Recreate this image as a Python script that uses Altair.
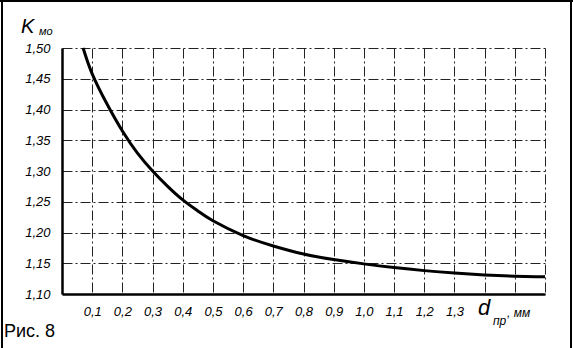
import altair as alt
import pandas as pd

# Curve: d_пр (mm) vs K_мо
d_vals = [0.07, 0.10, 0.15, 0.20, 0.25, 0.30, 0.35, 0.40, 0.45, 0.50, 0.60,
          0.70, 0.80, 0.90, 1.00, 1.10, 1.20, 1.30, 1.40, 1.50, 1.60]
k_vals = [1.500, 1.458, 1.408, 1.365, 1.329, 1.300, 1.275, 1.253, 1.235, 1.219, 1.195,
          1.178, 1.165, 1.156, 1.149, 1.143, 1.138, 1.134, 1.131, 1.129, 1.128]

x_ticks = [0.0, 0.1, 0.2, 0.3, 0.4, 0.5, 0.6, 0.7, 0.8, 0.9, 1.0, 1.1, 1.2, 1.3, 1.4, 1.5, 1.6]
y_ticks = [1.10, 1.15, 1.20, 1.25, 1.30, 1.35, 1.40, 1.45, 1.50]

df = pd.DataFrame({"d": d_vals, "k": k_vals})

W, H = 483, 246
FONT = "Liberation Sans"
GRID_DASH = [10, 3, 2, 3]

x_enc = alt.X(
    "d:Q",
    scale=alt.Scale(domain=[0, 1.6], nice=False, zero=False),
    axis=alt.Axis(
        values=x_ticks,
        labelExpr="datum.value > 0.05 && datum.value < 1.35 ? replace(format(datum.value, '.1f'), '.', ',') : ''",
        grid=True, gridDash=GRID_DASH, gridColor="#222222", gridWidth=1,
        ticks=False, domainWidth=2.5, domainColor="black",
        labelFont=FONT, labelFontSize=13, labelFontStyle="italic",
        labelColor="black", labelPadding=11, labelFlush=False, title=None,
    ),
)
y_enc = alt.Y(
    "k:Q",
    scale=alt.Scale(domain=[1.10, 1.50], nice=False, zero=False),
    axis=alt.Axis(
        values=y_ticks,
        labelExpr="replace(format(datum.value, '.2f'), '.', ',')",
        grid=True, gridDash=GRID_DASH, gridColor="#222222", gridWidth=1,
        ticks=False, domainWidth=2.5, domainColor="black",
        labelFont=FONT, labelFontSize=13, labelFontStyle="italic",
        labelColor="black", labelPadding=12, labelFlush=False, title=None,
    ),
)

curve = alt.Chart(df).mark_line(
    color="black", strokeWidth=3, interpolate="natural"
).encode(x=x_enc, y=y_enc)


def txt(s, x, y, size, style="italic", weight="normal", font=FONT):
    return alt.Chart(df).transform_filter("datum.d == 0.07").mark_text(
        font=font, fontSize=size, fontStyle=style, fontWeight=weight,
        align="left", baseline="alphabetic", color="black",
    ).encode(x=alt.value(x), y=alt.value(y), text=alt.value(s))


k_title = txt("K", -41, -15, 20)
k_sub = txt("мо", -23, -13, 11)
d_title = txt("d", 416, 267, 22)
d_sub = txt("пр", 431, 277, 12)
d_unit = txt(", мм", 445, 269, 12)
fig = txt("Рис. 8", -58, 289, 18, style="normal")

# outer frame of the figure (left, top, right)
frame_left = alt.Chart(df).transform_filter("datum.d == 0.07").mark_rule(
    color="black", strokeWidth=2).encode(
    x=alt.value(-60), y=alt.value(-48), y2=alt.value(300))
frame_top = alt.Chart(df).transform_filter("datum.d == 0.07").mark_rule(
    color="black", strokeWidth=2).encode(
    y=alt.value(-47), x=alt.value(-62), x2=alt.value(511))
frame_right = alt.Chart(df).transform_filter("datum.d == 0.07").mark_rule(
    color="black", strokeWidth=2).encode(
    x=alt.value(509), y=alt.value(-48), y2=alt.value(300))

chart = alt.layer(
    curve, k_title, k_sub, d_title, d_sub, d_unit, fig,
    frame_left, frame_top, frame_right
).properties(
    width=W, height=H,
    autosize="none",
    padding={"left": 62, "top": 48, "right": 28, "bottom": 54},
    background="white",
).configure_view(stroke=None)

chart.save("out.html", embed_options={"renderer": "svg", "actions": False})
